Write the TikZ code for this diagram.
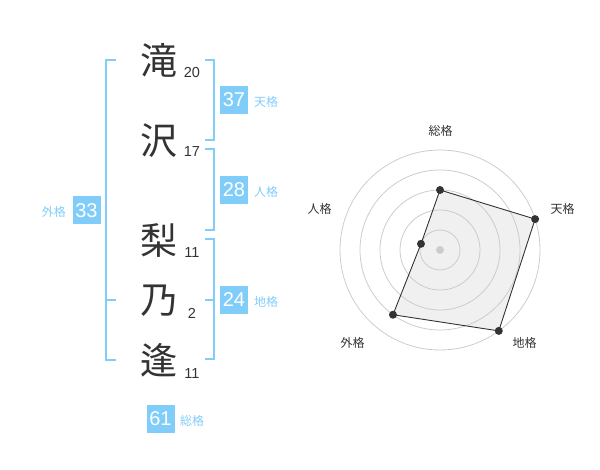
\documentclass[tikz,border=0pt]{standalone}
\usepackage{fontspec}
\setmainfont{Liberation Sans}
\newfontfamily\jp{Noto Sans CJK JP}
\usetikzlibrary{calc}
\definecolor{skyb}{RGB}{129,205,250}
\definecolor{ink}{RGB}{51,51,51}
\definecolor{ring}{RGB}{204,204,204}

\begin{document}
\begin{tikzpicture}[x=1pt,y=-1pt,
    kanji/.style={inner sep=0pt,text=ink,font=\jp\fontsize{37}{37}\selectfont},
    strokes/.style={inner sep=0pt,text=ink,font=\fontsize{14.5}{14.5}\selectfont},
    numbox/.style={fill=skyb,text=white,minimum size=28pt,inner sep=0pt,font=\fontsize{20}{20}\selectfont},
    kaku/.style={inner sep=0pt,text=skyb,font=\jp\fontsize{12}{12}\selectfont},
    bracket/.style={draw=skyb,line width=2pt},
    axis/.style={inner sep=0pt,text=ink,font=\jp\fontsize{12}{12}\selectfont}]
  \useasboundingbox (0,0) rectangle (600,470);

  % name
  \node[kanji] (k1) at (159,60) {滝};
  \node[kanji] (k2) at (159,141) {沢};
  \node[kanji] (k3) at (159,240) {梨};
  \node[kanji] (k4) at (159,301) {乃};
  \node[kanji] (k5) at (159,360) {逢};
  \node[strokes] (s1) at (192,73) {20};
  \node[strokes] (s2) at (192,152) {17};
  \node[strokes] (s3) at (192,253) {11};
  \node[strokes] (s4) at (192,313) {2};
  \node[strokes] (s5) at (192,373.5) {11};

  % brackets
  \draw[bracket] (205,60) -- (214,60) -- (214,140) -- (205,140);
  \draw[bracket] (205,149) -- (214,149) -- (214,230) -- (205,230);
  \draw[bracket] (205,239) -- (214,239) -- (214,359) -- (205,359);
  \draw[bracket] (205,300) -- (214,300);
  \draw[bracket] (116,60) -- (106,60) -- (106,360) -- (116,360);
  \draw[bracket] (106,300) -- (116,300);

  % boxes
  \node[numbox] (ten) at (234,100) {37};
  \node[kaku,anchor=west] (tenl) at (254,101.5) {天格};
  \node[numbox] (jin) at (234,190) {28};
  \node[kaku,anchor=west] (jinl) at (254,191.5) {人格};
  \node[numbox] (chi) at (234,300) {24};
  \node[kaku,anchor=west] (chil) at (254,301.5) {地格};
  \node[numbox] (gai) at (86.5,210.5) {33};
  \node[kaku,anchor=east] (gail) at (66,212) {外格};
  \node[numbox] (sou) at (160.5,419) {61};
  \node[kaku,anchor=west] (soul) at (180,421) {総格};

  % radar
  \coordinate (ctr) at (440,250);
  \coordinate (p1) at ($(ctr)+(-90:60)$);
  \coordinate (p2) at ($(ctr)+(-18:100)$);
  \coordinate (p3) at ($(ctr)+(54:100)$);
  \coordinate (p4) at ($(ctr)+(126:80)$);
  \coordinate (p5) at ($(ctr)+(198:20)$);
  \fill[black!6] (p1) -- (p2) -- (p3) -- (p4) -- (p5) -- cycle;
  \foreach \r in {20,40,...,100}
    \draw[ring,line width=0.8pt] (ctr) circle (\r pt);
  \fill[ring] (ctr) circle (4pt);
  \draw[ink,line width=0.9pt] (p1) -- (p2) -- (p3) -- (p4) -- (p5) -- cycle;
  \foreach \p in {p1,p2,p3,p4,p5}
    \fill[ink] (\p) circle (4pt);
  \node[axis] (a1) at (440.5,131) {総格};
  \node[axis] (a2) at (562.5,208.5) {天格};
  \node[axis] (a3) at (524.5,342.5) {地格};
  \node[axis] (a4) at (352.5,342.5) {外格};
  \node[axis] (a5) at (319.5,208.5) {人格};
\end{tikzpicture}
\end{document}
